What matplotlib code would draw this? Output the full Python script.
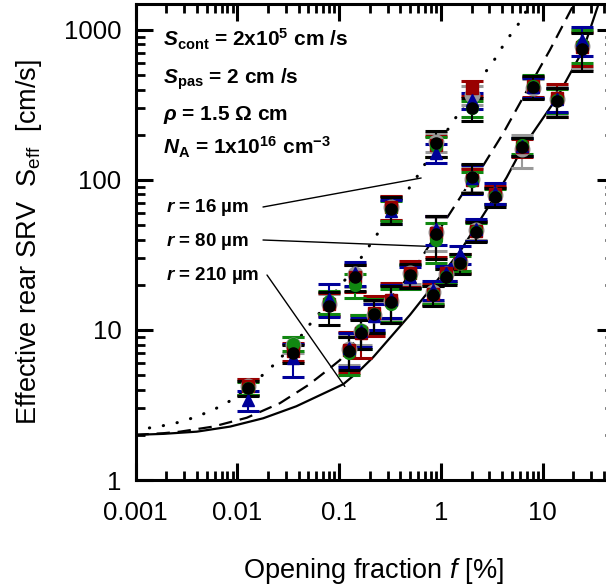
import numpy as np
import matplotlib
matplotlib.use('Agg')
import matplotlib.pyplot as plt
from matplotlib.ticker import LogLocator, FuncFormatter, NullFormatter

plt.rcParams['font.family'] = ['Liberation Sans', 'DejaVu Sans']
plt.rcParams['mathtext.fontset'] = 'custom'
plt.rcParams['mathtext.rm'] = 'Liberation Sans'
plt.rcParams['mathtext.it'] = 'Liberation Sans:italic'
plt.rcParams['mathtext.bf'] = 'Liberation Sans:bold'
plt.rcParams['mathtext.bfit'] = 'Liberation Sans:italic:bold'

# model curves (f in %, S_eff in cm/s)
f_r210 = [0.001, 0.00187, 0.004, 0.0085, 0.018, 0.038, 0.11, 0.161, 0.217, 0.497,
          0.671, 1.54, 3.4, 4.43, 6.22, 13.7, 25, 35.2, 37.3]
s_r210 = [2.0, 2.03, 2.1, 2.27, 2.58, 3.1, 4.35, 5.41, 6.6, 12.6,
          16.3, 33.3, 77.4, 104, 160, 350, 736, 1470, 1600]

f_r80 = [0.001, 0.00187, 0.00274, 0.0058, 0.0124, 0.0262, 0.05, 0.081, 0.102, 0.252,
         0.428, 0.624, 0.895, 2.0, 2.61, 4.1, 6.22, 11.8, 20.1, 21.5]
s_r80 = [2.0, 2.05, 2.1, 2.27, 2.6, 3.25, 4.3, 5.55, 6.3, 13.6,
         20.5, 29.3, 43, 100, 125, 205, 341, 736, 1468, 1600]

f_r16 = [0.001, 0.0018, 0.00263, 0.00384, 0.0058, 0.0088, 0.016, 0.0244, 0.043, 0.0516,
         0.061, 0.098, 0.114, 0.179, 0.234, 0.272, 0.487, 0.647, 0.736, 1.12,
         1.28, 1.48, 2.5, 2.93, 3.4, 3.84, 4.43, 5.07, 5.86, 6.6, 8.0]
s_r16 = [2.15, 2.29, 2.42, 2.62, 2.93, 3.41, 4.7, 6.1, 9.26, 10.9,
         12.4, 19.0, 21.5, 32.8, 43, 49.6, 88, 116.6, 136, 207,
         239, 274, 483, 555, 641, 736, 849, 975, 1108, 1275, 1560]

# measured points, one list per sample series
f_meas = [0.0128, 0.0355, 0.080, 0.126, 0.143, 0.164, 0.22, 0.324, 0.324, 0.50, 0.84, 0.895,
          0.895, 1.12, 1.54, 2.01, 2.01, 2.2, 3.4, 6.22, 8.1, 13.7, 24.2]

y_black = [4.1, 7.0, 14.4, 7.2, 22.7, 9.6, 12.7, 15.4, 64, 23.3, 17.1, 43.7,
           177, 22.7, 27.8, 105, 300, 45.3, 77.4, 167, 419, 338, 743]
y_gray = [4.2, 8.0, 15.0, 7.5, 23.5, 9.9, 12.5, 15.6, 66, 23.8, 18.0, 45,
          180, 23.5, 28.5, 102, 370, 46.5, 79, 160, 410, 345, 780]
y_red = [4.2, 7.2, 15.0, 7.4, 22.5, 9.5, 13.0, 15.8, 66, 24.0, 17.5, 44,
         170, 24.0, 28.0, 100, 410, 46, 80, 165, 420, 350, 770]
y_green = [4.1, 8.1, 15.5, 7.0, 20.0, 10.0, 12.8, 15.0, 63, 23.0, 17.3, 40,
           168, 23.0, 28.0, 98, 300, 45.5, 78, 170, 425, 340, 800]
y_blue = [3.4, 6.5, 16.2, 7.6, 24.0, 9.8, 12.4, 16.0, 62, 22.5, 18.5, 47,
          152, 24.0, 32.0, 103, 340, 47, 82, 168, 415, 345, 860]

# relative error half-widths
e_black = [0.12, 0.14, 0.25, 0.25, 0.20, 0.22, 0.25, 0.28, 0.20, 0.18, 0.15, 0.32,
           0.20, 0.12, 0.15, 0.22, 0.18, 0.15, 0.15, 0.14, 0.17, 0.22, 0.28]
e_gray = [0.12, 0.12, 0.15, 0.22, 0.18, 0.20, 0.22, 0.25, 0.18, 0.15, 0.14, 0.25,
          0.15, 0.12, 0.13, 0.18, 0.15, 0.14, 0.14, 0.25, 0.15, 0.20, 0.30]
e_red = [0.12, 0.14, 0.18, 0.30, 0.20, 0.32, 0.30, 0.30, 0.18, 0.20, 0.16, 0.30,
         0.16, 0.12, 0.14, 0.18, 0.12, 0.15, 0.14, 0.14, 0.15, 0.25, 0.25]
e_green = [0.10, 0.10, 0.18, 0.28, 0.18, 0.25, 0.25, 0.25, 0.15, 0.18, 0.14, 0.30,
           0.15, 0.10, 0.12, 0.16, 0.12, 0.14, 0.12, 0.12, 0.17, 0.18, 0.25]
e_blue = [0.15, 0.25, 0.25, 0.25, 0.18, 0.22, 0.20, 0.25, 0.18, 0.16, 0.14, 0.22,
          0.15, 0.12, 0.14, 0.22, 0.12, 0.16, 0.16, 0.14, 0.15, 0.18, 0.22]

series = [
    (y_gray, e_gray, '#9a9a9a', 'o', 10.5),
    (y_red, e_red, '#990000', 's', 8.5),
    (y_green, e_green, '#118811', 'o', 8.5),
    (y_blue, e_blue, '#000099', '^', 9),
    (y_black, e_black, 'black', 'o', 8),
]

fig = plt.figure(figsize=(6.06, 5.88), dpi=100)
W, H = 606, 588
ax = fig.add_axes([135.5 / W, 1 - 480 / H, (613.8 - 135.5) / W, (480 - 3.5) / H])

ax.plot(f_r210, s_r210, color='black', lw=1.6, zorder=3)
ax.plot(f_r80, s_r80, color='black', lw=1.6, dashes=(6, 3.5), zorder=3)
ax.plot(f_r16, s_r16, color='black', lw=2.2, dashes=(0.1, 4.5),
        dash_capstyle='round', zorder=3)

f_arr = np.array(f_meas)
for ys, es, col, mk, ms in series:
    ys = np.array(ys)
    err = ys * np.array(es)
    ax.errorbar(f_arr, ys, yerr=err, fmt=mk, color=col, ms=ms, mec=col,
                elinewidth=1.5, capsize=8, capthick=2.2, zorder=4)

ax.set_xscale('log')
ax.set_yscale('log')
ax.set_xlim(0.001, 50)
ax.set_ylim(1, 1500)

for axis in (ax.xaxis, ax.yaxis):
    axis.set_major_locator(LogLocator(base=10, numticks=20))
    axis.set_minor_locator(LogLocator(base=10, subs=np.arange(2, 10), numticks=20))
    axis.set_major_formatter(FuncFormatter(lambda v, p: f'{v:g}'))
    axis.set_minor_formatter(NullFormatter())

ax.tick_params(which='both', direction='in', top=True, right=True)
ax.tick_params(which='major', length=12, width=2.2, labelsize=18.5)
ax.tick_params(which='minor', length=6.5, width=2.0)
ax.tick_params(axis='x', pad=15)
ax.tick_params(axis='y', pad=10)
for sp in ax.spines.values():
    sp.set_linewidth(2.2)

ax.set_xlabel(r'Opening fraction $\mathit{f}$ [%]', fontsize=19.5)
ax.xaxis.set_label_coords(0.4966, -0.160)
ax.set_ylabel(r'Effective rear SRV  S$_{\mathrm{eff}}$  [cm/s]', fontsize=19.5)
ax.yaxis.set_label_coords(-0.191, 0.5)


def fpos(x, y):
    return x / W, 1 - y / H


params = [
    (47, r'$\mathbfit{S}_{\mathbf{cont}}$ = 2x10$^{\mathbf{5}}$ cm /s'),
    (83.5, r'$\mathbfit{S}_{\mathbf{pas}}$ = 2 cm /s'),
    (120, r'$\mathbfit{ρ}$ = 1.5 Ω cm'),
    (155, r'$\mathbfit{N}_{\mathbf{A}}$ = 1x10$^{\mathbf{16}}$ cm$^{\mathbf{-3}}$'),
]
for yb, txt in params:
    fig.text(*fpos(163, yb), txt, fontsize=15, fontweight='bold', va='baseline')

labels = [
    (212, r'$\mathbfit{r}$ = 16 µm', (263, 207), (0.64, 103)),
    (246, r'$\mathbfit{r}$ = 80 µm', (263, 240), (0.82, 36)),
    (280, r'$\mathbfit{r}$ = 210 µm', (267, 275), (0.114, 4.2)),
]
for yb, txt, start, end in labels:
    fig.text(*fpos(166, yb), txt, fontsize=13.5, fontweight='bold', va='baseline')
    ax.annotate('', xy=end, xycoords='data', xytext=fpos(*start),
                textcoords='figure fraction',
                arrowprops=dict(arrowstyle='-', lw=1.0, color='black',
                                shrinkA=0, shrinkB=0))

fig.savefig('out.png', dpi=100)
